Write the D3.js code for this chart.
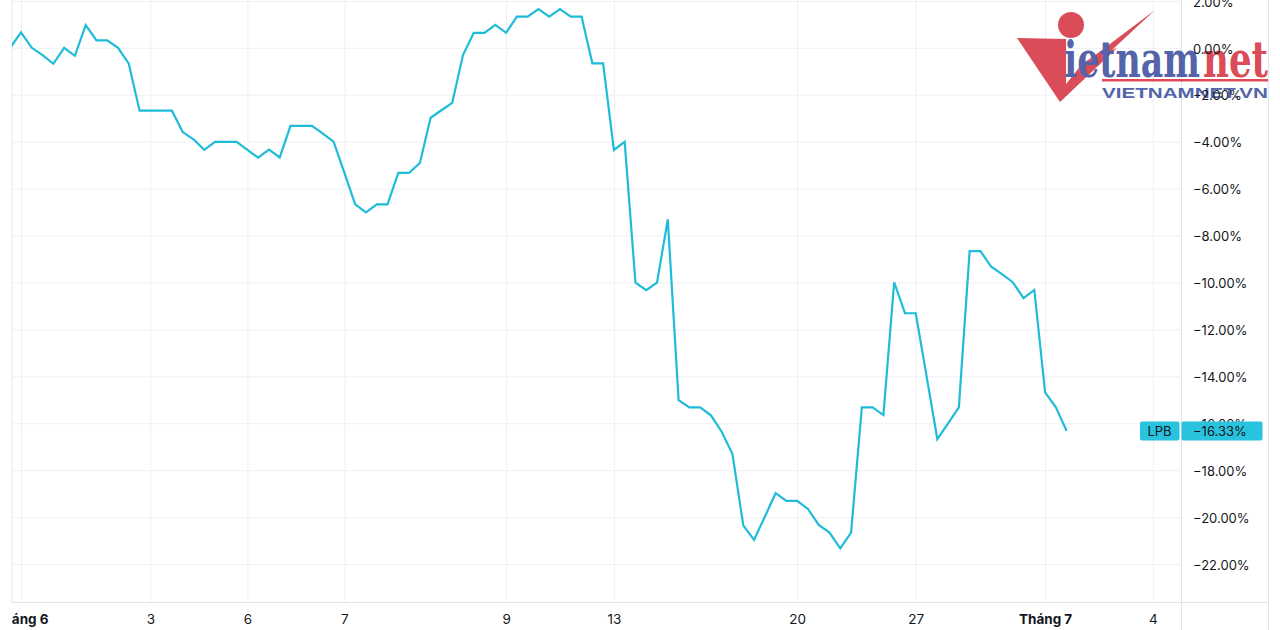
<!DOCTYPE html>
<html>
<head>
<meta charset="utf-8">
<script src="https://cdn.jsdelivr.net/npm/d3@7"></script>
<style>
  body { margin: 0; background: #fff; }
  svg { display: block; }
  text { font-family: Inter, Roboto, "Liberation Sans", sans-serif; }
</style>
</head>
<body>
<svg id="chart" width="1280" height="630"></svg>
<script>
// LPB % change, one value per session
var lpbValues = [
  0, 0.66, 0, -0.31, -0.68, 0, -0.34, 0.97, 0.32, 0.32,
  0, -0.68, -2.68, -2.68, -2.68, -2.68, -3.59, -3.90, -4.35, -4.01,
  -4.01, -4.01, -4.35, -4.68, -4.34, -4.67, -3.33, -3.33, -3.33, -3.66,
  -4.00, -5.33, -6.67, -7.01, -6.67, -6.67, -5.33, -5.33, -4.91, -2.98,
  -2.66, -2.35, -0.31, 0.64, 0.64, 0.98, 0.64, 1.33, 1.33, 1.65,
  1.33, 1.65, 1.33, 1.33, -0.66, -0.66, -4.35, -4.01, -10.01, -10.33,
  -10.01, -7.31, -15.01, -15.32, -15.32, -15.66, -16.36, -17.31, -20.35, -20.97,
  -19.98, -18.98, -19.31, -19.31, -19.65, -20.33, -20.66, -21.33, -20.66, -15.32,
  -15.32, -15.65, -9.99, -11.31, -11.31, -13.98, -16.67, -16.00, -15.32, -8.66,
  -8.66, -9.33, -9.64, -9.99, -10.67, -10.32, -14.68, -15.32, -16.33
];

// x axis ticks (session index -> label)
var xTickIdx = [1, 13, 22, 31, 46, 56, 73, 84, 96, 106];
var xTickLabels = ["Tháng 6", "3", "6", "7", "9", "13", "20", "27", "Tháng 7", "4"];

// y axis ticks
var yTicks = [2, 0, -2, -4, -6, -8, -10, -12, -14, -16, -18, -20, -22];

var seriesName = "LPB";

var lineColor = "#1ebcd8",
    badgeColor = "#29c3de",
    gridColor = "#eef0f4",
    textColor = "#131722";

var svg = d3.select("#chart");

var plotLeft = 12, plotRight = 1181, plotBottom = 602;

var x = d3.scaleLinear()
  .domain([0, 98])
  .range([10.22, 10.22 + 98 * 10.78]);

var y = d3.scaleLinear()
  .domain([0, -22])
  .range([47.8, 564.1]);

function pct(v) {
  return (v < 0 ? "\u2212" : "") + Math.abs(v).toFixed(2) + "%";
}

var defs = svg.append("defs");
defs.append("clipPath")
  .attr("id", "plotclip")
  .append("rect")
    .attr("x", plotLeft)
    .attr("y", 0)
    .attr("width", plotRight - plotLeft)
    .attr("height", plotBottom);
defs.append("clipPath")
  .attr("id", "xaxisclip")
  .append("rect")
    .attr("x", plotLeft)
    .attr("y", 0)
    .attr("width", plotRight - plotLeft)
    .attr("height", 630);

// horizontal grid
svg.append("g")
  .attr("transform", "translate(" + plotRight + ",0)")
  .call(d3.axisLeft(y).tickValues(yTicks).tickSize(plotRight - plotLeft).tickFormat(""))
  .call(function(g) { g.select(".domain").remove(); })
  .selectAll("line")
    .attr("stroke", gridColor);

// vertical grid
svg.append("g")
  .attr("clip-path", "url(#plotclip)")
  .call(d3.axisBottom(x).tickValues(xTickIdx).tickSize(plotBottom).tickFormat(""))
  .call(function(g) { g.select(".domain").remove(); })
  .selectAll("line")
    .attr("stroke", gridColor);

// frame lines
svg.append("line")
  .attr("x1", plotLeft).attr("x2", plotLeft)
  .attr("y1", 0).attr("y2", plotBottom)
  .attr("stroke", "#e6e8ec");
svg.append("line")
  .attr("x1", plotRight + 0.5).attr("x2", plotRight + 0.5)
  .attr("y1", 0).attr("y2", 630)
  .attr("stroke", "#e0e3eb");
svg.append("line")
  .attr("x1", 1268.5).attr("x2", 1268.5)
  .attr("y1", 0).attr("y2", 630)
  .attr("stroke", "#e0e3eb");
svg.append("line")
  .attr("x1", plotLeft).attr("x2", 1268)
  .attr("y1", plotBottom + 0.5).attr("y2", plotBottom + 0.5)
  .attr("stroke", "#e0e3eb");

// watermark logo
var logo = svg.append("g").attr("opacity", 0.95);
logo.append("path")
  .attr("d", "M1017,38 L1066,39 L1066,84 L1082,64 L1100,52 L1094,56 L1155,10 L1112,50 L1117,48 L1060,102 Z")
  .attr("fill", "#d9434f");
logo.append("circle")
  .attr("cx", 1071).attr("cy", 25).attr("r", 13)
  .attr("fill", "#d9434f");
logo.append("text")
  .attr("x", 1064).attr("y", 77)
  .attr("textLength", 136).attr("lengthAdjust", "spacingAndGlyphs")
  .style("font-family", "'DejaVu Serif Condensed', 'DejaVu Serif', serif")
  .style("font-weight", "bold")
  .style("font-size", "50px")
  .attr("fill", "#4b5ba6")
  .text("ietnam");
logo.append("text")
  .attr("x", 1203).attr("y", 77)
  .attr("textLength", 65).attr("lengthAdjust", "spacingAndGlyphs")
  .style("font-family", "'DejaVu Serif Condensed', 'DejaVu Serif', serif")
  .style("font-weight", "bold")
  .style("font-size", "50px")
  .attr("fill", "#d9434f")
  .text("net");
logo.append("rect")
  .attr("x", 1102).attr("y", 79).attr("width", 166).attr("height", 2.5)
  .attr("fill", "#d9434f");
logo.append("text")
  .attr("x", 1102).attr("y", 97.5)
  .attr("textLength", 166).attr("lengthAdjust", "spacingAndGlyphs")
  .style("font-family", "'Liberation Sans', Arial, sans-serif")
  .style("font-weight", "bold")
  .style("font-size", "14px")
  .attr("fill", "#4b5ba6")
  .text("VIETNAMNET.VN");

// line
var line = d3.line()
  .x(function(d, i) { return x(i); })
  .y(function(d) { return y(d); });

svg.append("path")
  .datum(lpbValues)
  .attr("clip-path", "url(#plotclip)")
  .attr("d", line)
  .style("fill", "none")
  .style("stroke", lineColor)
  .style("stroke-width", 2.2)
  .style("stroke-linejoin", "miter");

// Y axis labels
svg.append("g")
  .attr("transform", "translate(" + (plotRight + 12) + ",0)")
  .call(d3.axisRight(y).tickValues(yTicks).tickSize(0).tickPadding(0).tickFormat(pct))
  .call(function(g) { g.select(".domain").remove(); })
  .selectAll("text")
    .attr("fill", textColor)
    .style("font-size", "13px")
    .attr("dy", "0.4em");

// X axis labels (first one is cut by the left edge of the pane)
svg.append("g")
  .attr("clip-path", "url(#xaxisclip)")
  .append("g")
  .attr("transform", "translate(0," + plotBottom + ")")
  .call(d3.axisBottom(x).tickValues(xTickIdx).tickSize(0).tickPadding(12)
    .tickFormat(function(d, i) { return xTickLabels[i]; }))
  .call(function(g) { g.select(".domain").remove(); })
  .selectAll("text")
    .attr("fill", textColor)
    .style("font-size", "13.5px")
    .style("font-weight", function(d, i) { return xTickLabels[i].indexOf("Tháng") === 0 ? "bold" : "normal"; });

// last value badge
var last = lpbValues[lpbValues.length - 1];
var badge = svg.append("g");
badge.append("rect")
  .attr("x", 1140).attr("y", y(last) - 9.5)
  .attr("width", 39.5).attr("height", 19).attr("rx", 2)
  .attr("fill", badgeColor);
badge.append("rect")
  .attr("x", plotRight + 0.5).attr("y", y(last) - 9.5)
  .attr("width", 81).attr("height", 19).attr("rx", 2)
  .attr("fill", badgeColor);
badge.append("text")
  .attr("x", 1159.5).attr("y", y(last))
  .attr("dy", "0.36em")
  .attr("text-anchor", "middle")
  .attr("fill", textColor)
  .style("font-size", "13px")
  .text(seriesName);
badge.append("text")
  .attr("x", plotRight + 12).attr("y", y(last))
  .attr("dy", "0.36em")
  .attr("fill", textColor)
  .style("font-size", "13px")
  .text(pct(last));
</script>
</body>
</html>
